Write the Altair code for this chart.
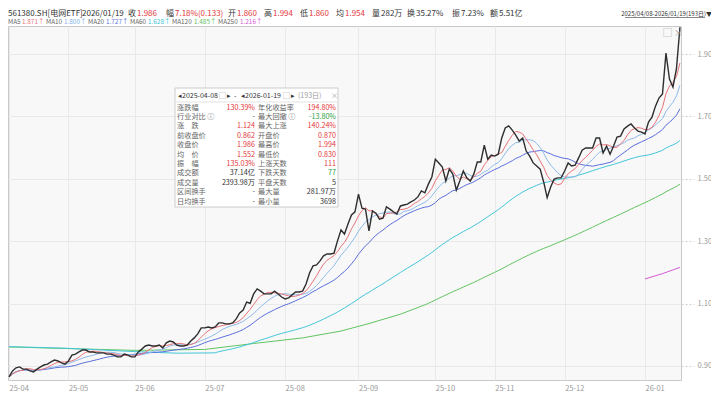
import altair as alt
import pandas as pd

# ---------------- data ----------------
close = [0.865, 0.884, 0.894, 0.897, 0.890, 0.890, 0.884, 0.881, 0.890, 0.897,
         0.903, 0.906, 0.913, 0.919, 0.916, 0.910, 0.906, 0.916, 0.935, 0.938,
         0.945, 0.951, 0.951, 0.945, 0.945, 0.942, 0.942, 0.942, 0.938, 0.938,
         0.935, 0.929, 0.929, 0.938, 0.935, 0.929, 0.929, 0.945, 0.954, 0.964,
         0.967, 0.964, 0.964, 0.967, 0.958, 0.974, 0.980, 0.977, 0.967, 0.964,
         0.964, 0.967, 0.980, 0.990, 1.003, 1.022, 1.022, 1.025, 1.022, 1.025,
         1.038, 1.038, 1.035, 1.035, 1.038, 1.051, 1.070, 1.079, 1.105, 1.101,
         1.131, 1.147, 1.140, 1.131, 1.131, 1.131, 1.140, 1.131, 1.121, 1.115,
         1.118, 1.128, 1.137, 1.137, 1.140, 1.163, 1.198, 1.221, 1.224, 1.237,
         1.253, 1.259, 1.259, 1.262, 1.301, 1.336, 1.323, 1.355, 1.384, 1.394,
         1.451, 1.406, 1.403, 1.333, 1.397, 1.390, 1.371, 1.374, 1.410, 1.403,
         1.394, 1.387, 1.413, 1.416, 1.419, 1.426, 1.432, 1.442, 1.461, 1.455,
         1.483, 1.506, 1.563, 1.551, 1.538, 1.493, 1.531, 1.515, 1.464, 1.493,
         1.525, 1.503, 1.493, 1.515, 1.554, 1.554, 1.608, 1.563, 1.576, 1.573,
         1.579, 1.631, 1.663, 1.670, 1.656, 1.640, 1.621, 1.631, 1.589, 1.573,
         1.551, 1.541, 1.531, 1.490, 1.440, 1.474, 1.499, 1.503, 1.503, 1.525,
         1.551, 1.541, 1.544, 1.567, 1.592, 1.599, 1.599, 1.599, 1.631, 1.631,
         1.583, 1.605, 1.579, 1.605, 1.634, 1.637, 1.660, 1.669, 1.676, 1.663,
         1.653, 1.650, 1.644, 1.682, 1.698, 1.733, 1.759, 1.772, 1.903, 1.820,
         1.794, 1.853, 1.986]

month_labels = ["25-04", "25-05", "25-06", "25-07", "25-08",
                "25-09", "25-10", "25-11", "25-12", "26-01"]
month_start = [0, 17, 36, 56, 79, 100, 122, 139, 159, 182]
y_ticks = [0.90, 1.10, 1.30, 1.50, 1.70, 1.90]

# long averages before their window is complete
ma60_early_idx = [0, 16, 36, 48, 59]
ma60_early_val = [0.962, 0.957, 0.946, 0.941, 0.942]
ma120_early_idx = [0, 16, 36, 56, 70, 84, 95, 103, 112, 119]
ma120_early_val = [0.961, 0.956, 0.950, 0.953, 0.972, 0.990, 1.012, 1.036, 1.066, 1.096]
ma250_idx = [182, 187, 192]
ma250_val = [1.179, 1.196, 1.216]

# header texts
head_text = ["561380.SH[电网ETF]", "2026/01/19", "收", "1.986", "幅", "7.18%(0.133)",
             "开", "1.860", "高", "1.994", "低", "1.860", "均", "1.954",
             "量", "282万", "换", "35.27%", "振", "7.23%", "额", "5.51亿"]
head_tone = ["flat", "flat", "flat", "up", "flat", "up", "flat", "up", "flat", "up",
             "flat", "up", "flat", "up", "flat", "flat", "flat", "flat",
             "flat", "flat", "flat", "flat"]
ma_names = ["MA5", "MA10", "MA20", "MA60", "MA120", "MA250"]
ma_last = ["1.871↑", "1.800↑", "1.727↑", "1.628↑", "1.485↑", "1.216↑"]
range_text = "2025/04/08-2026/01/19(193日)▼"

# statistics box
tip_head = ["◂", "2025-04-08", "▢", "▸", "-", "◂", "2026-01-19", "▢", "▸", "(193日)", "×"]
tip_head_tone = ["flat", "flat", "muted", "flat", "flat", "flat", "flat", "muted", "flat",
                 "muted", "muted"]
tip_lab_l = ["涨跌幅", "行业对比 ⓘ", "涨　跌", "前收盘价", "收盘价", "均　价",
             "振　幅", "成交额", "成交量", "区间换手", "日均换手"]
tip_val_l = ["130.39%", "-", "1.124", "0.862", "1.986", "1.552",
             "135.03%", "37.14亿", "2393.98万", "-", "-"]
tone_val_l = ["up", "flat", "up", "up", "up", "up", "up", "flat", "flat", "flat", "flat"]
tip_lab_r = ["年化收益率", "最大回撤 ⓘ", "最大上涨", "开盘价", "最高价", "最低价",
             "上涨天数", "下跌天数", "平盘天数", "最大量", "最小量"]
tip_val_r = ["194.80%", "-13.80%", "140.24%", "0.870", "1.994", "0.830",
             "111", "77", "5", "281.97万", "3698"]
tone_val_r = ["up", "down", "up", "up", "up", "up", "up", "down", "flat", "flat", "flat"]

# ---------------- layout ----------------
W, H = 673, 354
FONT = "Noto Sans CJK SC"
tone_scale = alt.Scale(domain=["up", "down", "flat", "label", "muted", "ma5", "ma10",
                               "ma20", "ma60", "ma120", "ma250"],
                       range=["#e4393c", "#2f9e44", "#333333", "#666666", "#9a9a9a",
                              "#e8737a", "#7fb2ea", "#5a6fdc", "#3ec3d6", "#5cc25c", "#d65ad6"])
ma_colors = ["#e8737a", "#8dbbec", "#5a6fdc", "#43c6da", "#62c462", "#d65ad6"]

price_df = pd.DataFrame({"idx": list(range(len(close))), "close": close})

x_enc = alt.X("idx:Q",
              scale=alt.Scale(domain=[-0.3, 192.3], nice=False, zero=False),
              axis=alt.Axis(values=month_start, title=None, grid=True, gridColor="#e9e9e9",
                            ticks=False, domain=False, labelColor="#9a9a9a", labelFontSize=7.5,
                            labelFont=FONT, labelAlign="left", labelPadding=4,
                            labelExpr="%s[indexof(%s, datum.value)]" % (
                                str(month_labels), str(month_start))))
y_scale = alt.Scale(domain=[0.855, 1.99], nice=False, zero=False)
y_axis = alt.Axis(values=y_ticks, format=".2f", orient="right", title=None, grid=True,
                  gridColor="#e9e9e9", tickSize=13, tickDash=[2, 2], tickColor="#d0d0d0",
                  domain=False, labelColor="#9a9a9a", labelFontSize=7.5, labelFont=FONT,
                  labelPadding=3)

base = alt.Chart(price_df)


def ma_line(n, color, start=0):
    ch = base.transform_window(ma="mean(close)", frame=[-(n - 1), 0], sort=[{"field": "idx"}])
    if start:
        ch = ch.transform_filter(alt.datum.idx >= start)
    return ch.mark_line(color=color, strokeWidth=1).encode(
        x=x_enc, y=alt.Y("ma:Q", scale=y_scale, axis=y_axis))


def early_line(idx, val, color):
    df = pd.DataFrame({"idx": idx, "v": val})
    return alt.Chart(df).mark_line(color=color, strokeWidth=1).encode(
        x=x_enc, y=alt.Y("v:Q", scale=y_scale, axis=y_axis))


price_line = base.mark_line(color="#2e2e2e", strokeWidth=1.4).encode(
    x=x_enc, y=alt.Y("close:Q", scale=y_scale, axis=y_axis))

main = alt.layer(
    early_line(ma250_idx, ma250_val, ma_colors[5]),
    early_line(ma120_early_idx, ma120_early_val, ma_colors[4]),
    ma_line(120, ma_colors[4], start=119),
    early_line(ma60_early_idx, ma60_early_val, ma_colors[3]),
    ma_line(60, ma_colors[3], start=59),
    ma_line(20, ma_colors[2]),
    ma_line(10, ma_colors[1]),
    ma_line(5, ma_colors[0]),
    price_line,
)


def text_layer(df, align="left", size=7.5):
    return alt.Chart(df).mark_text(align=align, baseline="middle", font=FONT,
                                   fontSize=size).encode(
        x=alt.X("px:Q", scale=None, axis=None),
        y=alt.Y("py:Q", scale=None, axis=None),
        text="t:N",
        color=alt.Color("tone:N", scale=tone_scale, legend=None))


# header line 1 (x positions in chart coordinates; page x = chart x + 8)
head_x = [0, 74, 120, 129, 158, 167, 220, 229, 256, 265, 292, 301, 328, 337,
          364, 373, 399, 408, 444, 453, 482, 491]
head_df = pd.DataFrame({"t": head_text, "tone": head_tone, "px": head_x,
                        "py": [-12.5] * len(head_text)})
# header line 2
ma_x = [0, 38, 80, 122, 164, 210]
ma_off = [14, 18, 18, 18, 22, 22]
ma_df = pd.DataFrame({
    "t": ma_names + ma_last,
    "tone": ["label"] * 6 + ["ma5", "ma10", "ma20", "ma60", "ma120", "ma250"],
    "px": ma_x + [x + o for x, o in zip(ma_x, ma_off)],
    "py": [-4.5] * 12})
range_df = pd.DataFrame({"t": [range_text], "tone": ["flat"], "px": [704], "py": [-12.5]})
icon_df = pd.DataFrame({"t": ["▢ ×"], "tone": ["muted"], "px": [655], "py": [7]})

# statistics box
BX0, BX1, BY0, BY1 = 167, 330, 62, 181
row_y = [BY0 + 19.5 + 9.4 * r for r in range(len(tip_lab_l))]
lab_df = pd.DataFrame({"t": tip_lab_l + tip_lab_r, "tone": ["label"] * 22,
                       "px": [BX0 + 2] * 11 + [BX0 + 83] * 11, "py": row_y + row_y})
val_df = pd.DataFrame({"t": tip_val_l + tip_val_r, "tone": tone_val_l + tone_val_r,
                       "px": [BX0 + 80] * 11 + [BX1 - 2] * 11, "py": row_y + row_y})
th_x = [170, 174, 211, 219, 226, 233, 237, 275, 283, 290, 323]
th_df = pd.DataFrame({"t": tip_head, "tone": tip_head_tone, "px": th_x,
                      "py": [BY0 + 8] * len(tip_head)})

one = pd.DataFrame({"a": [0]})
box = alt.Chart(one).mark_rect(fill="white", stroke="#cccccc", strokeWidth=1).encode(
    x=alt.value(BX0), x2=alt.value(BX1), y=alt.value(BY0), y2=alt.value(BY1))
box_sep = alt.Chart(one).mark_rule(color="#e3e3e3", strokeWidth=1).encode(
    x=alt.value(BX0 + 1), x2=alt.value(BX1 - 1), y=alt.value(BY0 + 14))
underline = alt.Chart(one).mark_rule(color="#555555", strokeWidth=0.7).encode(
    x=alt.value(617), x2=alt.value(697), y=alt.value(-8.5))

chart = alt.layer(
    main,
    box, box_sep,
    text_layer(th_df, size=7), text_layer(lab_df, size=7.2),
    text_layer(val_df, align="right", size=7.2),
    text_layer(head_df, size=8), text_layer(ma_df, size=6.4),
    text_layer(range_df, align="right", size=6),
    text_layer(icon_df, size=9),
    underline,
).resolve_scale(x="independent", y="independent", color="independent").properties(
    width=W, height=H,
    autosize=alt.AutoSizeParams(type="none"),
    padding={"left": 0, "top": 18, "right": 30, "bottom": 12},
    background="white",
).configure_view(stroke="#c9c9c9", fill="#f8f8f8")

chart.save("out.html", embed_options={"renderer": "svg", "actions": False})
